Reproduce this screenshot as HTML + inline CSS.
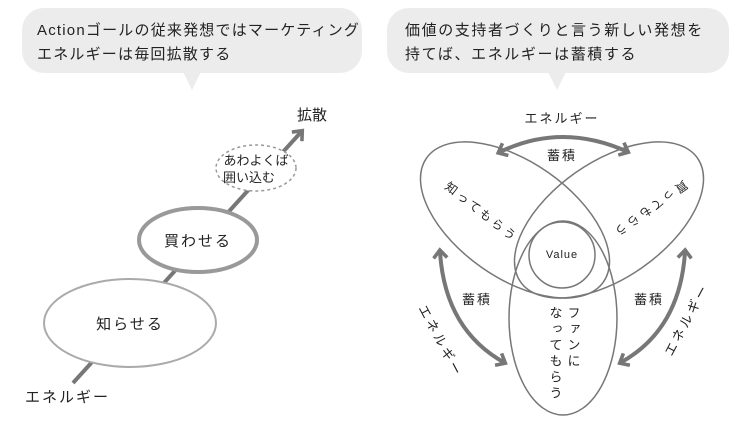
<!DOCTYPE html>
<html><head><meta charset="utf-8"><style>
html,body{margin:0;padding:0;background:#fff;width:744px;height:423px;overflow:hidden}
svg{display:block}
text{font-family:"Liberation Sans","Noto Sans CJK JP",sans-serif;fill:#222}
</style></head><body>
<svg width="744" height="423" viewBox="0 0 744 423" xmlns="http://www.w3.org/2000/svg">
<defs>
<marker id="ah" markerWidth="4" markerHeight="4" refX="2.2" refY="2" orient="auto" markerUnits="strokeWidth">
<path d="M0.3,0.3 L2.3,2 L0.3,3.7" fill="none" stroke="#777" stroke-width="0.9"/>
</marker>
<marker id="ahs" markerWidth="4" markerHeight="4" refX="1.8" refY="2" orient="auto-start-reverse" markerUnits="strokeWidth">
<path d="M0.3,0.3 L2.3,2 L0.3,3.7" fill="none" stroke="#777" stroke-width="0.9"/>
</marker>
</defs>
<rect x="22" y="8" width="340" height="65" rx="22" fill="#ececec"/>
<path d="M183,72 L192,90 L201,72Z" fill="#ececec"/>
<text x="37" y="35" font-size="15" letter-spacing="1.2">Actionゴールの従来発想ではマーケティング</text>
<text x="37" y="59" font-size="15" letter-spacing="1.2">エネルギーは毎回拡散する</text>
<rect x="387" y="8" width="342" height="65" rx="22" fill="#ececec"/>
<path d="M548,72 L557,90 L566,72Z" fill="#ececec"/>
<text x="405" y="35" font-size="15" letter-spacing="1.6">価値の支持者づくりと言う新しい発想を</text>
<text x="405" y="59" font-size="15" letter-spacing="1.6">持てば、エネルギーは蓄積する</text>

<line x1="73" y1="383" x2="302" y2="131" stroke="#777" stroke-width="4" marker-end="url(#ah)"/>
<ellipse cx="130" cy="323" rx="86" ry="44" fill="#fff" stroke="#aaa" stroke-width="2"/>
<text x="130" y="329" font-size="15" text-anchor="middle" letter-spacing="2">知らせる</text>
<ellipse cx="198" cy="240" rx="59" ry="32" fill="#fff" stroke="#999" stroke-width="4"/>
<text x="198" y="246" font-size="15" text-anchor="middle" letter-spacing="2">買わせる</text>
<ellipse cx="256" cy="168" rx="40" ry="23" fill="#fff" stroke="#999" stroke-width="1.5" stroke-dasharray="3,3"/>
<text x="256" y="165" font-size="13" text-anchor="middle">あわよくば</text>
<text x="249" y="182" font-size="13" text-anchor="middle">囲い込む</text>
<text x="297" y="120" font-size="15">拡散</text>
<text x="25" y="402" font-size="15" letter-spacing="2">エネルギー</text>

<g fill="none" stroke="#777" stroke-width="1.5">
<ellipse cx="515" cy="220" rx="108" ry="58" transform="rotate(35 515 220)"/>
<ellipse cx="609" cy="220" rx="108" ry="58" transform="rotate(-35 609 220)"/>
<ellipse cx="563" cy="318" rx="54" ry="97"/>
<circle cx="562" cy="255" r="33"/>
</g>
<text x="562" y="258" font-size="11" text-anchor="middle" letter-spacing="1">Value</text>
<g fill="none" stroke="#777" stroke-width="4">
<path d="M500,152 Q562,122 628,152" marker-end="url(#ah)" marker-start="url(#ahs)"/>
<path d="M440,252 Q445,330 505,363" marker-end="url(#ah)" marker-start="url(#ahs)"/>
<path d="M685,252 Q680,330 620,363" marker-end="url(#ah)" marker-start="url(#ahs)"/>
</g>
<text x="562" y="123" font-size="13" text-anchor="middle" letter-spacing="2">エネルギー</text>
<text x="562" y="160" font-size="13" text-anchor="middle" letter-spacing="2">蓄積</text>
<text x="477" y="304" font-size="13" text-anchor="middle" letter-spacing="2">蓄積</text>
<text x="649" y="304" font-size="13" text-anchor="middle" letter-spacing="2">蓄積</text>
<text transform="translate(418,308) rotate(62)" font-size="13" letter-spacing="3">エネルギー</text>
<text transform="translate(672,357) rotate(-62)" font-size="13" letter-spacing="3">エネルギー</text>
<text transform="translate(444,188) rotate(38)" font-size="12" letter-spacing="3">知ってもらう</text>
<text transform="translate(684,180) rotate(145)" font-size="12" letter-spacing="3">買ってもらう</text>
<text x="573" y="306" font-size="13" letter-spacing="3" style="writing-mode:vertical-rl">ファンに</text>
<text x="555" y="306" font-size="13" letter-spacing="3" style="writing-mode:vertical-rl">なってもらう</text>
</svg>
</body></html>
